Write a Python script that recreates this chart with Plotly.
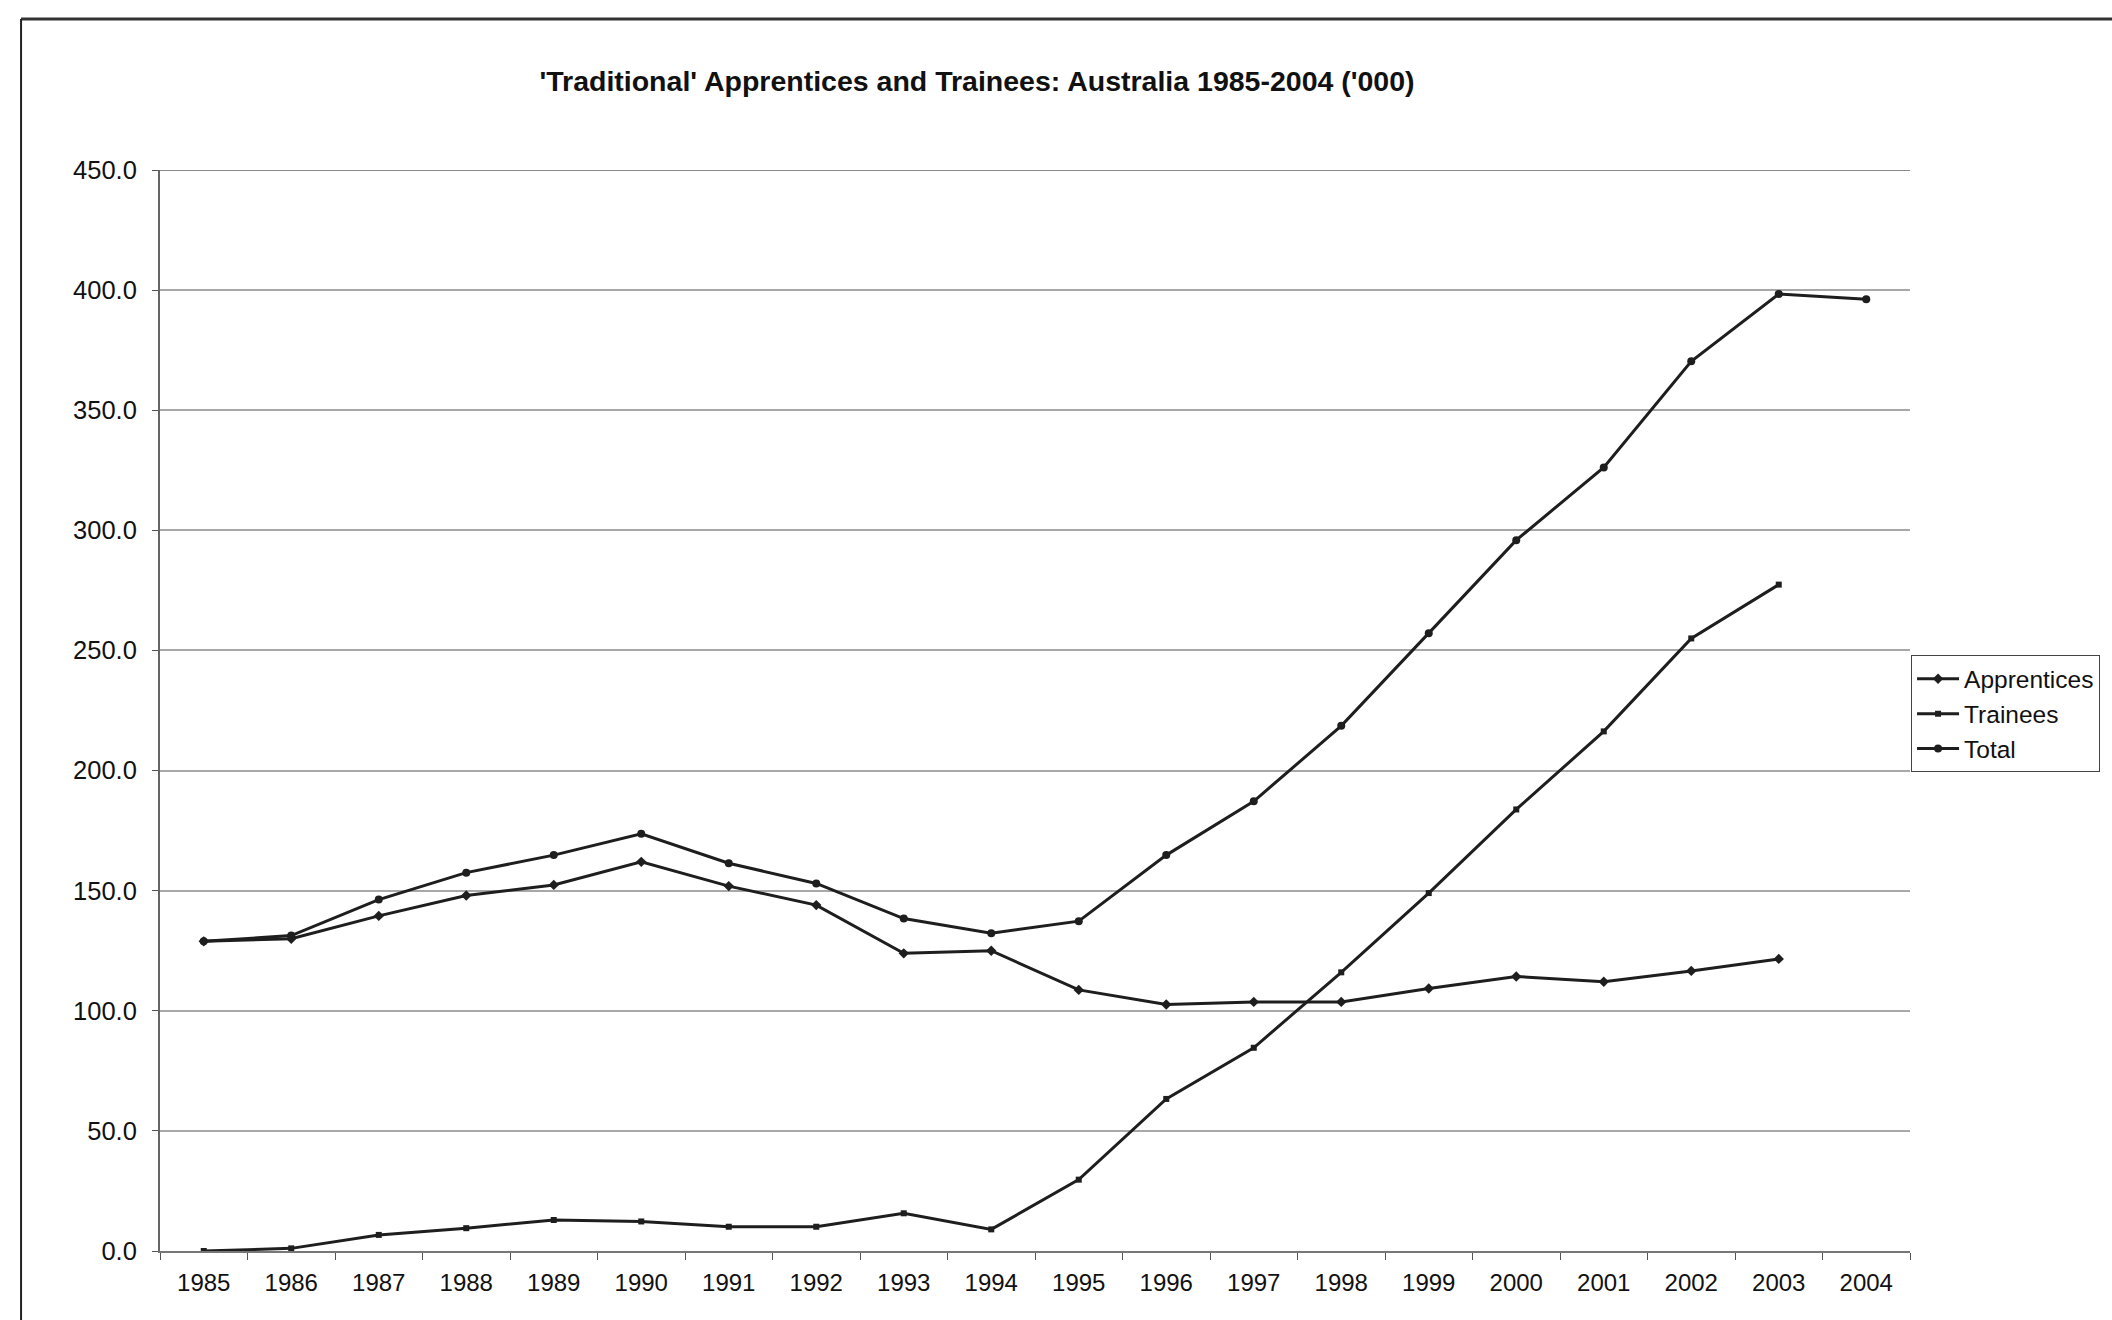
import plotly.graph_objects as go

# Apprentices and trainees in training, Australia ('000)
years = [str(y) for y in range(1985, 2005)]
apprentices = [128.9, 130.0, 139.5, 148.0, 152.4, 162.0, 151.9, 144.0, 123.9, 125.0,
               108.7, 102.6, 103.7, 103.7, 109.3, 114.3, 112.1, 116.6, 121.6, None]
trainees = [0.0, 1.1, 6.7, 9.5, 12.9, 12.3, 10.1, 10.1, 15.7, 9.0,
            29.7, 63.3, 84.6, 116.0, 149.0, 183.8, 216.3, 255.0, 277.4, None]
total = [128.9, 131.3, 146.3, 157.5, 164.8, 173.7, 161.4, 153.0, 138.4, 132.3,
         137.3, 164.8, 187.2, 218.6, 257.2, 295.9, 326.2, 370.4, 398.4, 396.2]
y_ticks = [0, 50, 100, 150, 200, 250, 300, 350, 400, 450]

ink = "#1e1e1e"
font_family = "Liberation Sans, Arial, sans-serif"

fig = go.Figure()
fig.add_trace(go.Scatter(x=years, y=apprentices, name="Apprentices", mode="lines+markers",
                         legendgroup="a",
                         line=dict(color=ink, width=3),
                         marker=dict(symbol="diamond", size=8, color=ink)))
fig.add_trace(go.Scatter(x=years, y=trainees, name="Trainees", mode="lines+markers",
                         legendgroup="t",
                         line=dict(color=ink, width=3),
                         marker=dict(symbol="square", size=6, color=ink)))
fig.add_trace(go.Scatter(x=years, y=total, name="Total", mode="lines+markers",
                         legendgroup="s",
                         line=dict(color=ink, width=3),
                         marker=dict(symbol="circle", size=8, color=ink)))

# Top gridline at the upper edge of the value axis
fig.add_shape(type="line", xref="paper", yref="y", x0=0, x1=1, y0=450, y1=450,
              line=dict(color="#8a8a8a", width=2))

# Outer chart-area frame
fig.add_shape(type="line", xref="paper", yref="paper", x0=-0.0794, x1=1.25, y0=1.1397, y1=1.1397,
              line=dict(color="#333", width=3))
fig.add_shape(type="line", xref="paper", yref="paper", x0=-0.0794, x1=-0.0794, y0=1.1397, y1=-0.2,
              line=dict(color="#222", width=2))

fig.update_layout(
    width=2112, height=1320,
    margin=dict(l=160, r=202, t=170, b=69),
    paper_bgcolor="white", plot_bgcolor="white",
    font=dict(family=font_family, color="#111"),
    title=dict(text="<b>'Traditional' Apprentices and Trainees: Australia 1985-2004 ('000)</b>",
               x=977 / 2112, xanchor="center", y=1 - 81 / 1320, yanchor="middle",
               font=dict(size=28.5, family=font_family, color="#111")),
    showlegend=True,
    legend=dict(x=1.0006, xanchor="left", y=0.551, yanchor="top",
                bordercolor="#444", borderwidth=1, bgcolor="white",
                font=dict(size=24.5, family=font_family, color="#111"),
                tracegroupgap=0, itemwidth=42),
    xaxis=dict(type="category", tickson="boundaries", ticks="outside", ticklen=7,
               tickcolor="#555", showline=True, linecolor="#777", linewidth=2,
               showgrid=False, ticklabelstandoff=9,
               tickfont=dict(size=24, family=font_family, color="#111"),
               range=[-0.5, 19.5]),
    yaxis=dict(range=[0, 450], tickvals=y_ticks,
               ticktext=[f"{v:.1f}" for v in y_ticks],
               ticks="outside", ticklen=6, tickcolor="#555",
               showline=True, linecolor="#666", linewidth=2,
               showgrid=True, gridcolor="#a8a8a8", gridwidth=1.5, zeroline=False,
               ticklabelstandoff=10,
               tickfont=dict(size=25.5, family=font_family, color="#111")),
)

fig.write_html("out.html")
